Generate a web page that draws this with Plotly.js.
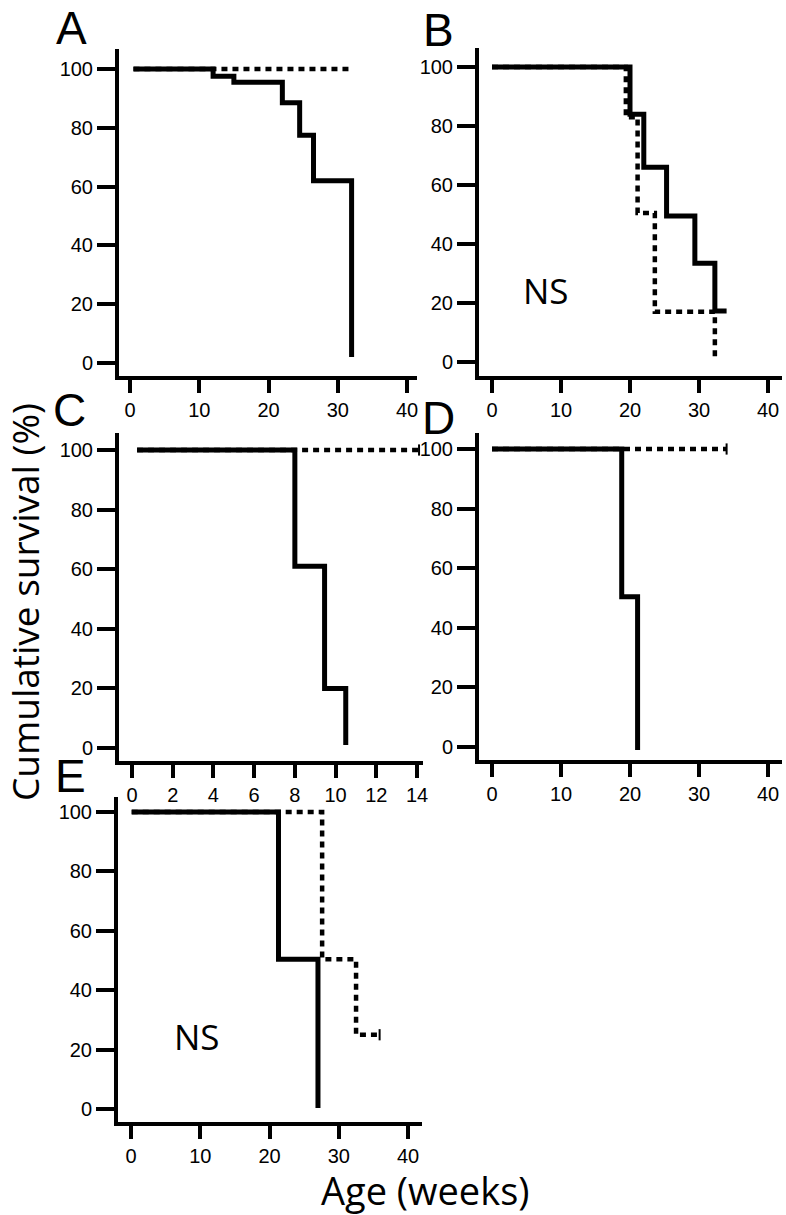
<!DOCTYPE html>
<html>
<head>
<meta charset="utf-8">
<script src="https://cdn.plot.ly/plotly-3.0.1.min.js"></script>
<style>
  body { margin: 0; background: #fff; }
  #chart { width: 786px; height: 1215px; }
</style>
</head>
<body>
<div id="chart"></div>
<script>
var W = 786, H = 1215;

// survival curves (age in weeks, cumulative survival %)
var aSolidX = [0.5, 12, 15, 22, 24.5, 26.5, 32];
var aSolidY = [100, 97.5, 95.5, 88.5, 77.5, 62, 2];
var aDotX = [0.5, 32];
var aDotY = [100, 100];

var bSolidX = [0, 20, 22, 25.3, 29.4, 32.3, 34];
var bSolidY = [100, 84, 66, 49.5, 33.5, 17.3, 17.3];
var bDotX = [0, 19.4, 21.1, 23.6, 32.3];
var bDotY = [100, 83, 50.5, 17, 0.5];

var cSolidX = [0.25, 8.0, 9.46, 10.5];
var cSolidY = [100, 61, 20, 1];
var cDotX = [0.25, 14.1];
var cDotY = [100, 100];

var dSolidX = [0, 18.8, 21.1];
var dSolidY = [100, 50.4, -1];
var dDotX = [0, 34];
var dDotY = [100, 100];

var eSolidX = [0.1, 21.3, 27.0];
var eSolidY = [100, 50.4, 0.3];
var eDotX = [0.1, 27.6, 32.5, 35.9];
var eDotY = [100, 50.4, 25, 25];

// censored marks at the end of some dotted curves
var censorC = [14.1, 100];
var censorD = [34, 100];
var censorE = [35.9, 25];

var weekTicks = [0, 10, 20, 30, 40];
var weekTicksC = [0, 2, 4, 6, 8, 10, 12, 14];
var pctTicks = [0, 20, 40, 60, 80, 100];
var panelLetters = ['A', 'B', 'C', 'D', 'E'];
var nsLabel = 'NS';
var yTitle = 'Cumulative survival (%)';
var xTitle = 'Age (weeks)';

// panel boxes in pixels: inner plot edges + pixel of two ticks on each axis
var panels = [
  { l: 119, r: 417, t: 49, b: 376, x0: 130, x1: 407, xv: 40, y0: 363, y1: 69, ticks: weekTicks },
  { l: 479, r: 782, t: 48, b: 376, x0: 492, x1: 768, xv: 40, y0: 362, y1: 67, ticks: weekTicks },
  { l: 119, r: 423, t: 433, b: 761, x0: 132, x1: 417, xv: 14, y0: 748, y1: 450, ticks: weekTicksC },
  { l: 479, r: 782, t: 433, b: 760, x0: 492, x1: 768, xv: 40, y0: 747, y1: 449, ticks: weekTicks },
  { l: 118, r: 422, t: 797, b: 1122, x0: 131, x1: 408, xv: 40, y0: 1109, y1: 812, ticks: weekTicks }
];

function rangeFrom(p0, p1, v1, a, b) {
  var k = v1 / (p1 - p0);
  return [(a - p0) * k, (b - p0) * k];
}

var tickFont = { family: 'Liberation Sans, Arial, sans-serif', size: 20, color: '#000' };
var layout = {
  width: W, height: H,
  margin: { l: 0, r: 0, t: 0, b: 0 },
  paper_bgcolor: '#fff', plot_bgcolor: '#fff',
  showlegend: false,
  annotations: []
};

panels.forEach(function(p, i) {
  var s = i === 0 ? '' : String(i + 1);
  layout['xaxis' + s] = {
    domain: [p.l / W, p.r / W],
    range: rangeFrom(p.x0, p.x1, p.xv, p.l, p.r),
    anchor: 'y' + s,
    showline: true, linewidth: 4, linecolor: '#000',
    ticks: 'outside', ticklen: 13, tickwidth: 4, tickcolor: '#000',
    tickmode: 'array', tickvals: p.ticks,
    showgrid: false, zeroline: false,
    tickfont: tickFont
  };
  layout['yaxis' + s] = {
    domain: [1 - p.b / H, 1 - p.t / H],
    range: rangeFrom(p.y0, p.y1, 100, p.b, p.t),
    anchor: 'x' + s,
    showline: true, linewidth: 4, linecolor: '#000',
    ticks: 'outside', ticklen: 18, tickwidth: 4, tickcolor: '#000',
    tickmode: 'array', tickvals: pctTicks,
    showgrid: false, zeroline: false,
    tickfont: tickFont
  };
});

function solid(x, y, s) {
  return { x: x, y: y, xaxis: 'x' + s, yaxis: 'y' + s, mode: 'lines',
    line: { color: '#000', width: 5, shape: 'hv' }, hoverinfo: 'skip' };
}
function dotted(x, y, s) {
  return { x: x, y: y, xaxis: 'x' + s, yaxis: 'y' + s, mode: 'lines',
    line: { color: '#000', width: 4.5, shape: 'hv', dash: '6px,5px' }, hoverinfo: 'skip' };
}
function censor(pt, s) {
  return { x: [pt[0]], y: [pt[1]], xaxis: 'x' + s, yaxis: 'y' + s, mode: 'markers',
    marker: { symbol: 'line-ns-open', size: 8, color: '#000', line: { color: '#000', width: 2 } },
    hoverinfo: 'skip' };
}

var data = [
  dotted(aDotX, aDotY, ''), solid(aSolidX, aSolidY, ''),
  dotted(bDotX, bDotY, '2'), solid(bSolidX, bSolidY, '2'),
  solid(cSolidX, cSolidY, '3'), dotted(cDotX, cDotY, '3'), censor(censorC, '3'),
  solid(dSolidX, dSolidY, '4'), dotted(dDotX, dDotY, '4'), censor(censorD, '4'),
  solid(eSolidX, eSolidY, '5'), dotted(eDotX, eDotY, '5'), censor(censorE, '5')
];

// panel letters
var letterPos = [[71, 28], [438, 30], [69, 410], [438, 418], [70, 776]];
panelLetters.forEach(function(t, i) {
  layout.annotations.push({
    text: t, xref: 'paper', yref: 'paper',
    x: letterPos[i][0] / W, y: 1 - letterPos[i][1] / H,
    xanchor: 'center', yanchor: 'middle', showarrow: false,
    font: { family: 'Liberation Sans, Arial, sans-serif', size: 46, color: '#000' }
  });
});

// NS labels in B and E
[[546, 291], [197, 1036]].forEach(function(p) {
  layout.annotations.push({
    text: nsLabel, xref: 'paper', yref: 'paper',
    x: p[0] / W, y: 1 - p[1] / H,
    xanchor: 'center', yanchor: 'middle', showarrow: false,
    font: { family: 'Open Sans, sans-serif', size: 35, color: '#000' }
  });
});

layout.annotations.push({
  text: yTitle, xref: 'paper', yref: 'paper',
  x: 24 / W, y: 1 - 602 / H, textangle: -90,
  xanchor: 'center', yanchor: 'middle', showarrow: false,
  font: { family: 'Open Sans, sans-serif', size: 37, color: '#000' }
});
layout.annotations.push({
  text: xTitle, xref: 'paper', yref: 'paper',
  x: 425 / W, y: 1 - 1190 / H,
  xanchor: 'center', yanchor: 'middle', showarrow: false,
  font: { family: 'Open Sans, sans-serif', size: 38, color: '#000' }
});

Plotly.newPlot('chart', data, layout, { staticPlot: true });
</script>
</body>
</html>
